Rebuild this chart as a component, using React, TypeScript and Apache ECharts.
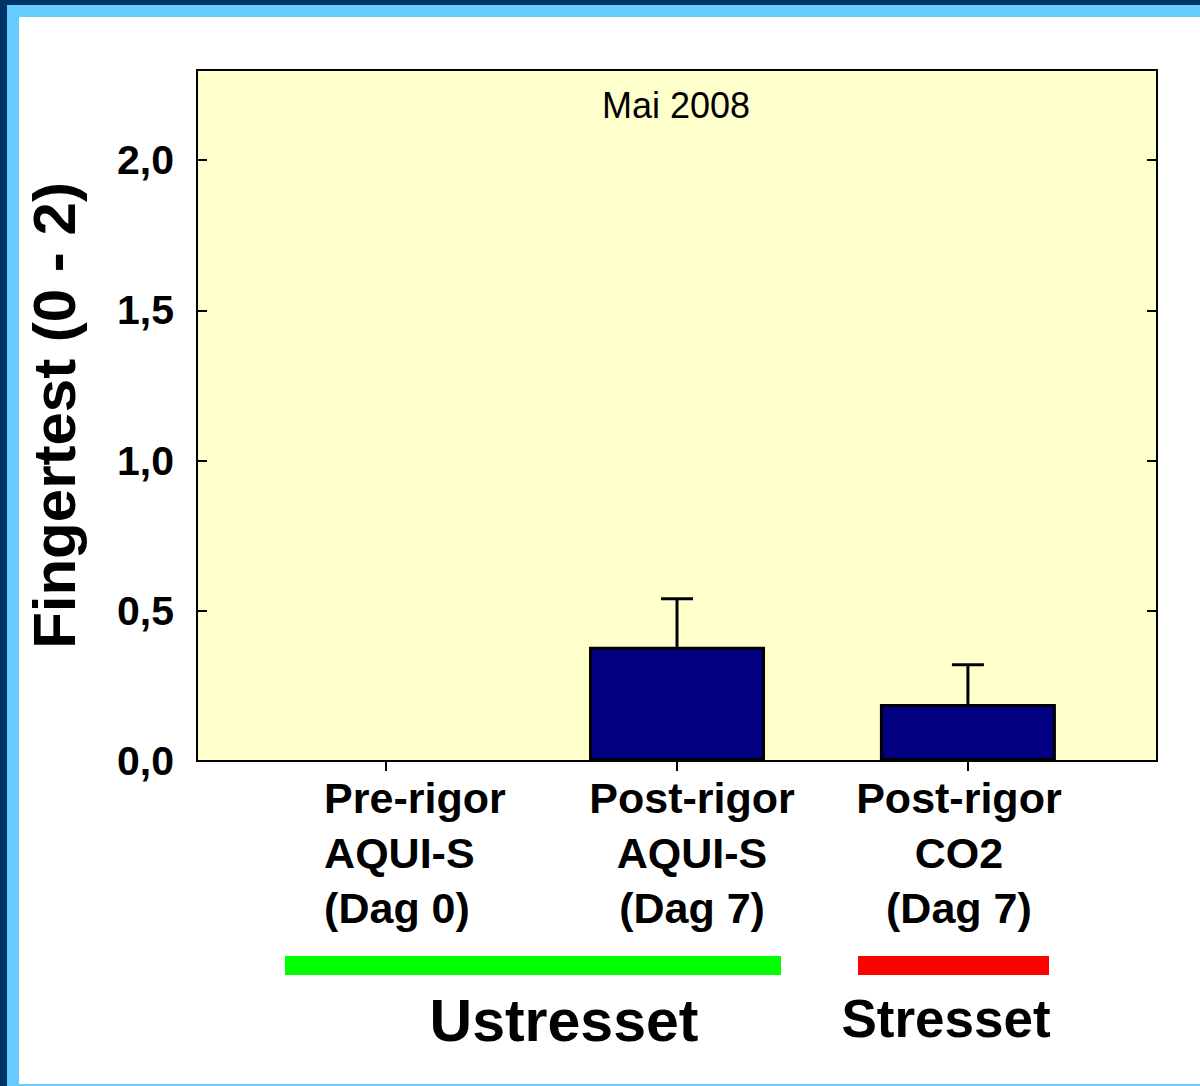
import React, { useEffect, useRef } from "react";
import * as echarts from "echarts";

const categories = ["Pre-rigor\nAQUI-S\n(Dag 0)", "Post-rigor\nAQUI-S\n(Dag 7)", "Post-rigor\nCO2\n(Dag 7)"];
const positions = [1, 2, 3];
const means = [0, 0.38, 0.19];
const upper = [0, 0.54, 0.32];
const yTicks = [0, 0.5, 1.0, 1.5, 2.0];
const title = "Mai 2008";
const yName = "Fingertest (0 - 2)";
const groupLabels = ["Ustresset", "Stresset"];

const FONT = "'Liberation Sans', Arial, Helvetica, sans-serif";
// layout of category labels (offset from tick, alignment)
const labelDx = [-62, 15, -9];
const labelAlign = ["left", "center", "center"];

export default function App() {
  const ref = useRef<HTMLDivElement>(null);
  useEffect(() => {
    document.body.style.margin = "0";
    const chart = echarts.init(ref.current!, null, { renderer: "svg" });
    const option: any = {
      animation: false,
      backgroundColor: "#ffffff",
      grid: {
        left: 197,
        top: 70,
        width: 960,
        height: 691,
        show: true,
        backgroundColor: "#FFFFCC",
        borderColor: "#000000",
        borderWidth: 2,
      },
      xAxis: {
        type: "value",
        min: 0.35,
        max: 3.65,
        splitLine: { show: false },
        axisLine: { show: true, lineStyle: { color: "#000", width: 2 } },
        axisTick: {
          show: true,
          customValues: positions,
          length: 10,
          inside: false,
          lineStyle: { color: "#000", width: 2 },
        },
        axisLabel: { show: false },
      },
      yAxis: [
        {
          type: "value",
          min: 0,
          max: 2.3,
          splitLine: { show: false },
          axisLine: { show: true, lineStyle: { color: "#000", width: 2 } },
          axisTick: {
            show: true,
            inside: true,
            length: 10,
            customValues: yTicks,
            lineStyle: { color: "#000", width: 2 },
          },
          axisLabel: {
            show: true,
            customValues: yTicks,
            margin: 23,
            fontSize: 41,
            fontWeight: "bold",
            fontFamily: FONT,
            color: "#000",
            formatter: (v: number) => v.toFixed(1).replace(".", ","),
          },
          name: yName,
          nameLocation: "middle",
          nameRotate: 90,
          nameGap: 113,
          nameTextStyle: { fontSize: 60, fontWeight: "bold", fontFamily: FONT, color: "#000" },
        },
        {
          type: "value",
          position: "right",
          min: 0,
          max: 2.3,
          splitLine: { show: false },
          axisLine: { show: true, lineStyle: { color: "#000", width: 2 } },
          axisTick: {
            show: true,
            inside: true,
            length: 10,
            customValues: yTicks,
            lineStyle: { color: "#000", width: 2 },
          },
          axisLabel: { show: false },
        },
      ],
      series: [
        {
          type: "bar",
          data: positions.map((p, i) => ({
            value: [p, means[i]],
            itemStyle: means[i] === 0 ? { borderWidth: 0 } : undefined,
          })),
          barWidth: 176,
          itemStyle: { color: "#000080", borderColor: "#000", borderWidth: 3 },
          z: 2,
        },
        {
          type: "custom",
          z: 3,
          data: positions.map((p, i) => [p, means[i], upper[i]]),
          renderItem: (params: any, api: any) => {
            const x = api.value(0);
            const m = api.value(1);
            const u = api.value(2);
            if (u <= m) return null;
            const b = api.coord([x, m]);
            const t = api.coord([x, u]);
            const st = { stroke: "#000", lineWidth: 3 };
            return {
              type: "group",
              children: [
                { type: "line", shape: { x1: b[0], y1: b[1], x2: t[0], y2: t[1] }, style: st },
                { type: "line", shape: { x1: t[0] - 16, y1: t[1], x2: t[0] + 16, y2: t[1] }, style: st },
              ],
            };
          },
        },
        {
          type: "custom",
          clip: false,
          z: 3,
          data: positions.map((p, i) => [p, i]),
          renderItem: (params: any, api: any) => {
            const x = api.value(0);
            const i = api.value(1);
            const c = api.coord([x, 0]);
            return {
              type: "text",
              x: c[0] + labelDx[i],
              y: c[1] + 9,
              style: {
                text: categories[i],
                fontSize: 43,
                fontWeight: "bold",
                fontFamily: FONT,
                fill: "#000",
                align: labelAlign[i],
                verticalAlign: "top",
                lineHeight: 55,
              },
            };
          },
        },
      ],
      graphic: {
        elements: [
          { type: "rect", silent: true, shape: { x: 0, y: 0, width: 1200, height: 5 }, style: { fill: "#003366" } },
          { type: "rect", silent: true, shape: { x: 0, y: 0, width: 7, height: 1086 }, style: { fill: "#003366" } },
          { type: "rect", silent: true, shape: { x: 7, y: 5, width: 1193, height: 12 }, style: { fill: "#66CCFF" } },
          { type: "rect", silent: true, shape: { x: 7, y: 5, width: 12, height: 1081 }, style: { fill: "#66CCFF" } },
          { type: "rect", silent: true, shape: { x: 19, y: 1084, width: 1181, height: 2 }, style: { fill: "#66CCFF" } },
          {
            type: "text",
            z: 100,
            x: 676,
            y: 105,
            style: { text: title, fontSize: 36, fontFamily: FONT, fill: "#000", align: "center", verticalAlign: "middle" },
          },
          { type: "rect", shape: { x: 285, y: 956, width: 496, height: 19 }, style: { fill: "#00FF00" } },
          { type: "rect", shape: { x: 858, y: 956, width: 191, height: 19 }, style: { fill: "#FF0000" } },
          {
            type: "text",
            x: 564,
            y: 1021,
            style: { text: groupLabels[0], fontSize: 59, fontWeight: "bold", fontFamily: FONT, fill: "#000", align: "center", verticalAlign: "middle" },
          },
          {
            type: "text",
            x: 946,
            y: 1018,
            style: { text: groupLabels[1], fontSize: 53, fontWeight: "bold", fontFamily: FONT, fill: "#000", align: "center", verticalAlign: "middle" },
          },
        ],
      },
    };
    chart.setOption(option);
    return () => chart.dispose();
  }, []);
  return <div ref={ref} style={{ position: "fixed", left: 0, top: 0, width: 1200, height: 1086 }} />;
}
